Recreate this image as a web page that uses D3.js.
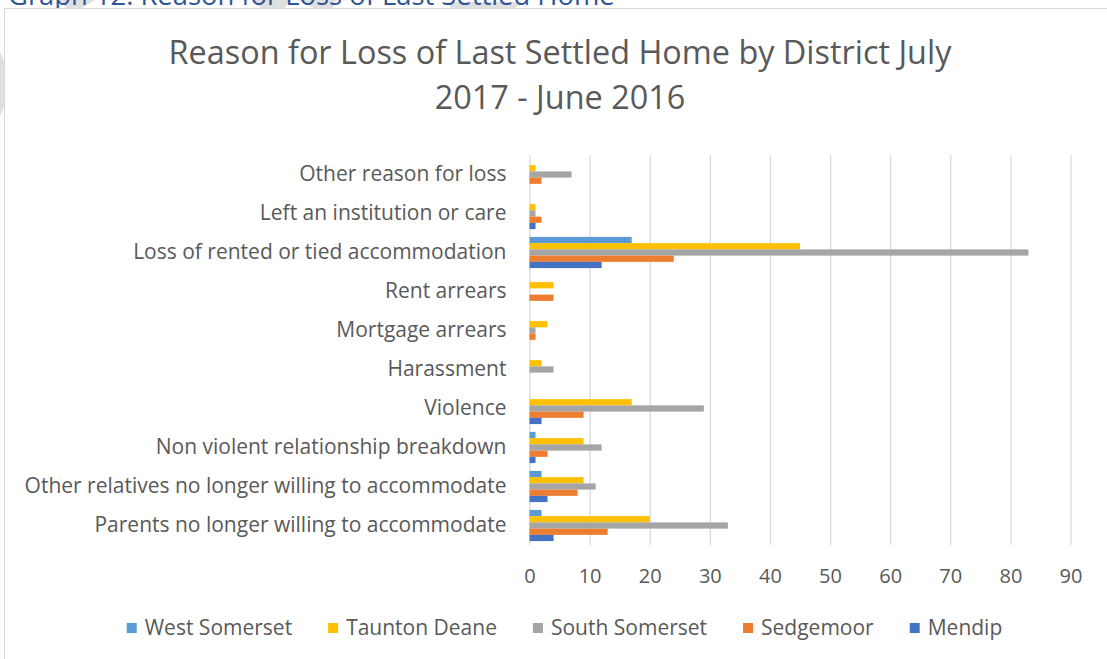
<!DOCTYPE html>
<html>
<head>
<meta charset="utf-8">
<script src="https://cdn.jsdelivr.net/npm/d3@7"></script>
<style>
  body { margin: 0; background: #fff; }
  text { font-family: "Open Sans", sans-serif; }
</style>
</head>
<body>
<div id="chart"></div>
<script>
// data
let categories = [
	"Other reason for loss",
	"Left an institution or care",
	"Loss of rented or tied accommodation",
	"Rent arrears",
	"Mortgage arrears",
	"Harassment",
	"Violence",
	"Non violent relationship breakdown",
	"Other relatives no longer willing to accommodate",
	"Parents no longer willing to accommodate"
];
let seriesNames = ["West Somerset", "Taunton Deane", "South Somerset", "Sedgemoor", "Mendip"];
let westSomerset  = [0, 0, 17, 0, 0, 0, 0, 1, 2, 2];
let tauntonDeane  = [1, 1, 45, 4, 3, 2, 17, 9, 9, 20];
let southSomerset = [7, 1, 83, 0, 1, 4, 29, 12, 11, 33];
let sedgemoor     = [2, 2, 24, 4, 1, 0, 9, 3, 8, 13];
let mendip        = [0, 1, 12, 0, 0, 0, 2, 1, 3, 4];
let xTicks = [0, 10, 20, 30, 40, 50, 60, 70, 80, 90];
let colors = ["#5B9BD5", "#FFC000", "#A5A5A5", "#ED7D31", "#4472C4"];

let seriesValues = [westSomerset, tauntonDeane, southSomerset, sedgemoor, mendip];

let width = 1107,
	height = 659;
let plot = {left: 529.5, right: 1070.5, top: 155, bottom: 545};
let textColor = "#595959";

let svg = d3.select("#chart").append("svg")
	.attr("width", width)
	.attr("height", height);

// watermark bits peeking out behind the chart
let wm = svg.append("g").attr("fill", "#e0e0e0");
[
	[[58, 0], [95, 0], [80, 9], [68, 9]],
	[[252, 0], [290, 0], [284, 9], [262, 9]],
	[[298, 0], [336, 0], [332, 9], [316, 9]],
	[[446, 2], [522, 2], [514, 9], [452, 9]],
	[[0, 52], [5, 62], [5, 106], [0, 116]]
].forEach(p => wm.append("polygon").attr("points", p.map(d => d.join(",")).join(" ")));

// page caption (cut off at the top, as in the source page)
let caption = svg.append("text")
	.attr("x", 8)
	.attr("y", 5)
	.attr("fill", "#2F5597")
	.attr("font-size", 24)
	.text("Graph 12: Reason for Loss of Last Settled Home");
fitWidth(caption, 607);

// chart frame
svg.append("rect")
	.attr("x", 4.5)
	.attr("y", 8.5)
	.attr("width", 1120)
	.attr("height", 670)
	.attr("fill", "#fff")
	.attr("stroke", "#d9d9d9");

// title
let t1 = svg.append("text")
	.attr("x", 560).attr("y", 64)
	.attr("text-anchor", "middle")
	.attr("fill", textColor)
	.attr("font-size", 28)
	.text("Reason for Loss of Last Settled Home by District July");
fitWidth(t1, 783);
svg.append("text")
	.attr("x", 560).attr("y", 109)
	.attr("text-anchor", "middle")
	.attr("fill", textColor)
	.attr("font-size", t1.attr("font-size"))
	.text("2017 - June 2016");

// scales
let x = d3.scaleLinear()
	.domain([0, 90])
	.range([plot.left, plot.right]);

let y = d3.scaleBand()
	.domain(categories)
	.range([plot.top, plot.bottom])
	.paddingInner(0.2)
	.paddingOuter(0.1);

let ySeries = d3.scaleBand()
	.domain(seriesNames)
	.range([0, y.bandwidth()]);

// gridlines
svg.append("g")
	.attr("class", "grid")
	.attr("transform", "translate(0," + plot.bottom + ")")
	.call(d3.axisBottom(x).tickValues(xTicks).tickSize(-(plot.bottom - plot.top)).tickFormat(""))
	.call(g => g.select(".domain").remove())
	.call(g => g.selectAll("line").attr("stroke", "#d9d9d9").attr("stroke-width", 1.3));

// bars
let rows = categories.map((c, i) => ({category: c, values: seriesNames.map((s, j) => ({series: s, value: seriesValues[j][i], color: colors[j]}))}));

let groups = svg.selectAll(".cat")
	.data(rows)
	.enter()
	.append("g")
	.attr("class", "cat")
	.attr("transform", d => "translate(0," + y(d.category) + ")");

groups.selectAll("rect")
	.data(d => d.values.filter(v => v.value > 0))
	.enter()
	.append("rect")
	.attr("x", x(0))
	.attr("y", d => ySeries(d.series))
	.attr("height", ySeries.bandwidth())
	.attr("width", d => x(d.value) - x(0))
	.attr("fill", d => d.color);

// x tick labels
svg.append("g")
	.attr("transform", "translate(0," + plot.bottom + ")")
	.call(d3.axisBottom(x).tickValues(xTicks).tickSize(0).tickPadding(24))
	.call(g => g.select(".domain").remove())
	.call(g => g.selectAll("text")
		.attr("fill", textColor)
		.attr("font-size", 20)
		.attr("font-family", "Open Sans, sans-serif"));

// category labels
svg.append("g")
	.attr("transform", "translate(" + plot.left + ",0)")
	.call(d3.axisLeft(y).tickSize(0).tickPadding(23))
	.call(g => g.select(".domain").remove())
	.call(g => g.selectAll("text")
		.attr("fill", textColor)
		.attr("font-size", 21)
		.attr("font-family", "Open Sans, sans-serif"));

// legend
let legend = svg.append("g").attr("transform", "translate(0,628)");
let items = legend.selectAll("g")
	.data(seriesNames)
	.enter()
	.append("g");
items.append("rect")
	.attr("y", -5)
	.attr("width", 10)
	.attr("height", 10)
	.attr("fill", (d, i) => colors[i]);
items.append("text")
	.attr("x", 18)
	.attr("dy", "0.35em")
	.attr("fill", textColor)
	.attr("font-size", 21)
	.text(d => d);

let pos = 0;
let offsets = [];
items.each(function() {
	offsets.push(pos);
	let w = 18 + d3.select(this).select("text").node().getComputedTextLength();
	pos += w + 36;
});
let total = pos - 36;
let start = 564.5 - total / 2;
items.attr("transform", (d, i) => "translate(" + (start + offsets[i]) + ",0)");

function fitWidth(sel, target) {
	let size = +sel.attr("font-size");
	let len = sel.node().getComputedTextLength();
	sel.attr("font-size", (size * target / len).toFixed(2));
}
</script>
</body>
</html>
